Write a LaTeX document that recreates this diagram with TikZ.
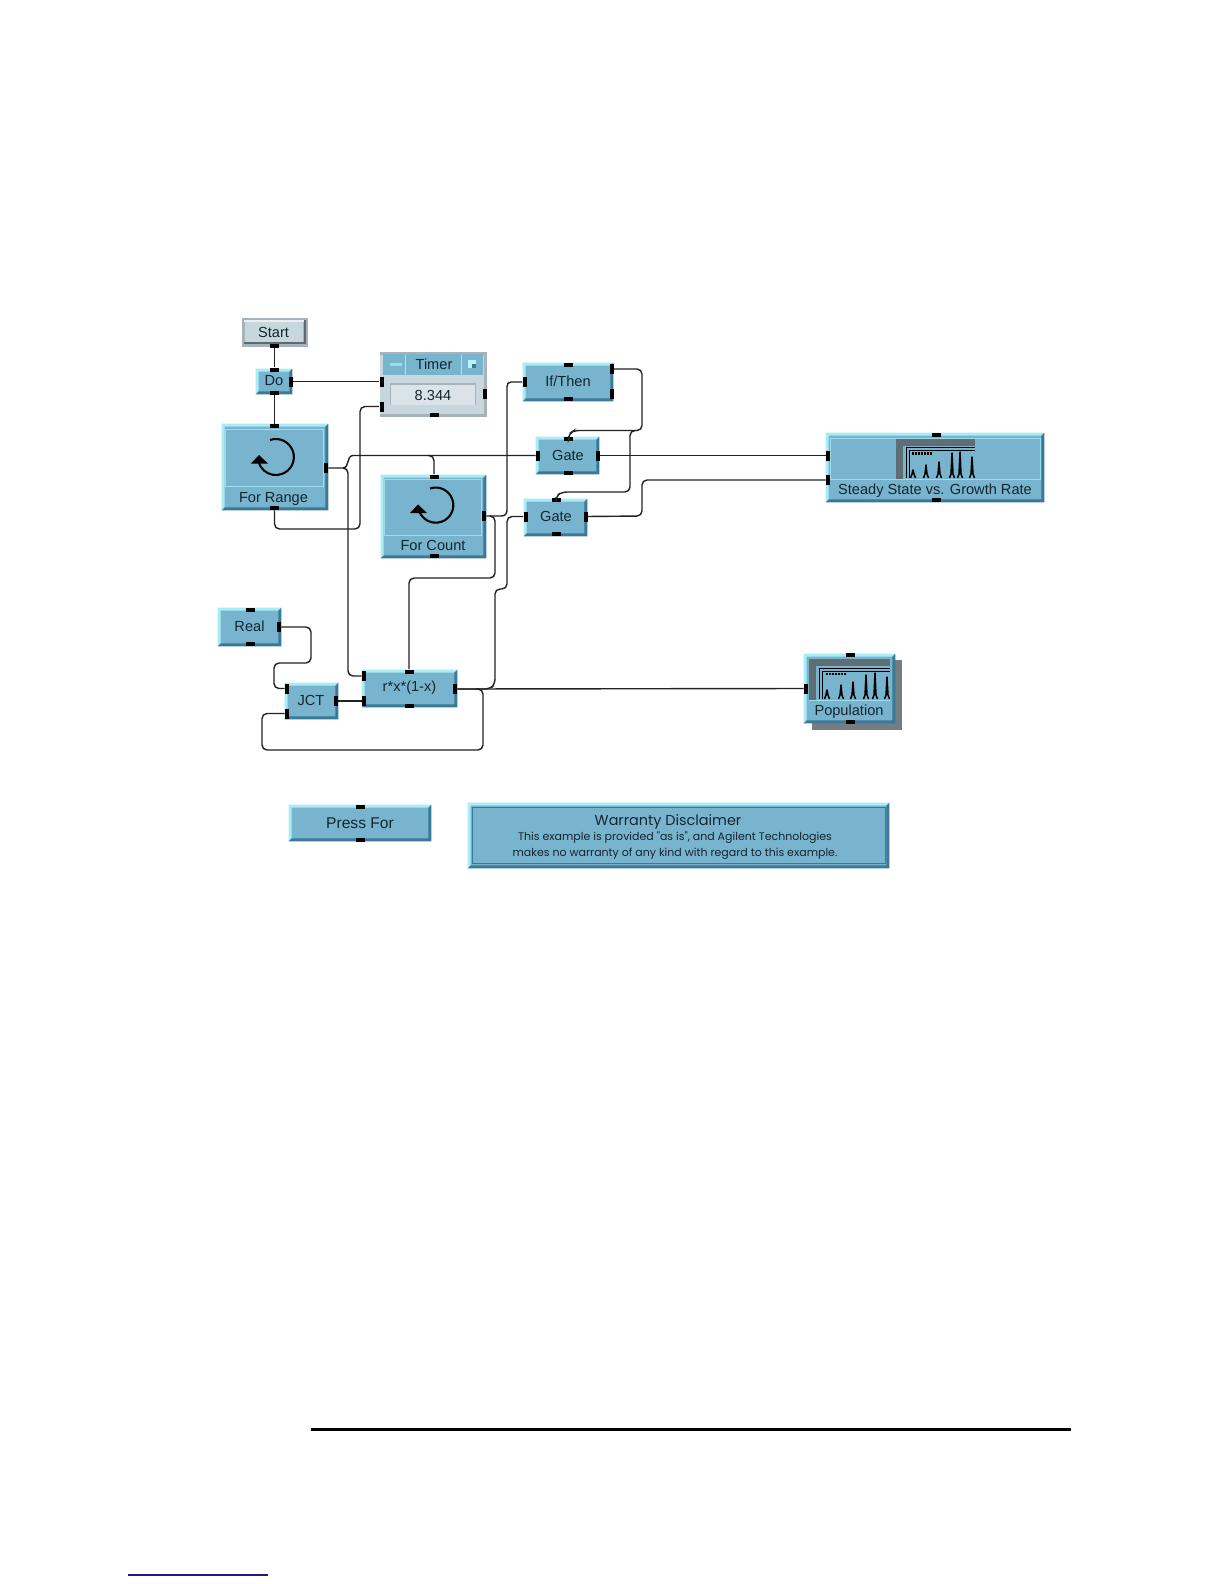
\documentclass[tikz,border=0pt]{standalone}
\usepackage{fontspec}
\setmainfont{Liberation Sans}
\newfontfamily\gothic{Poppins}
\definecolor{face}{HTML}{78B4CE}
\definecolor{lite}{HTML}{A8EDF6}
\definecolor{dark}{HTML}{3A7A98}
\definecolor{gface}{HTML}{C8D7DE}
\definecolor{gdark}{HTML}{A6B3B9}
\definecolor{gedge}{HTML}{5E6A70}
\definecolor{ink}{HTML}{14262F}
\definecolor{wirec}{HTML}{222222}
\definecolor{hatch}{HTML}{5F6E75}
\definecolor{linkc}{HTML}{1A1A90}
\tikzset{
 block/.style={fill=face,inner sep=0pt,text=ink,font=\fontsize{7.3}{9}\selectfont},
 gblock/.style={block,fill=gface},
 capt/.style={inner sep=0pt,text=ink,font=\fontsize{7.3}{9}\selectfont},
 wire/.style={draw=wirec,line width=0.7pt,rounded corners=2.5pt},
 portside/.style={fill=black,inner sep=0pt,minimum width=2pt,minimum height=5pt},
 porttop/.style={fill=black,inner sep=0pt,minimum width=4.5pt,minimum height=2pt},
 frameline/.style={draw=lite!70!face,line width=0.4pt},
 loopline/.style={draw=black,line width=1.05pt},
 spikeline/.style={draw=black,line width=0.75pt,line join=round},
}
\newcommand{\blocknode}[7][block]{%
 \pgfmathsetmacro{\bw}{(#5-#3)*0.5}\pgfmathsetmacro{\bh}{(#6-#4)*0.5}%
 \pgfmathsetmacro{\bx}{(#3+#5)/2}\pgfmathsetmacro{\by}{(#4+#6)/2}%
 \node[#1,minimum width=\bw pt,minimum height=\bh pt] (#2) at (\bx,\by) {};}
\newcommand{\bevel}[3]{% node, light, dark
 \fill[#2] (#1.south west) -- (#1.north west) -- (#1.north east) -- ([shift={(-3,3)}]#1.north east) -- ([shift={(3,3)}]#1.north west) -- ([shift={(3,-3)}]#1.south west) -- cycle;
 \fill[#3] (#1.south west) -- (#1.south east) -- (#1.north east) -- ([shift={(-3,3)}]#1.north east) -- ([shift={(-3,-3)}]#1.south east) -- ([shift={(3,-3)}]#1.south west) -- cycle;}
\newcommand{\sideport}[3]{\node[portside] (#1) at (#2,#3) {};}
\newcommand{\topport}[3]{\node[porttop] (#1) at (#2,#3) {};}
\newcommand{\spike}[3]{\draw[spikeline] (#1-2.5,#3) -- (#1-1,#3-4) -- (#1,#2) -- (#1+1,#3-4) -- (#1+2.5,#3);}
\begin{document}
\begin{tikzpicture}[x=0.5pt,y=-0.5pt]
\useasboundingbox[fill=white] (0,0) rectangle (1224,1584);

% ---------- blocks
\blocknode[gblock]{start}{242}{318}{308}{347}{}
\fill[gdark] (242,318) rectangle (308,347);
\fill[white!60!gface] (244,320) rectangle (304,322);
\fill[gedge] (244,342) rectangle (306,344);
\fill[gedge] (304,320) rectangle (306,344);
\fill[gface] (245,322) rectangle (303,342);
\node[capt] (startcap) at (273.5,332) {Start};

\blocknode{doo}{256}{369}{292}{394}{}
\bevel{doo}{lite}{dark}
\node[capt] (doocap) at (274,381) {Do};

\blocknode[gblock]{timer}{380}{352}{487}{417}{}
\fill[gdark] (380,352) rectangle (487,355);
\fill[gdark] (380,414) rectangle (487,417);
\fill[gdark] (484,352) rectangle (487,417);
\fill[face] (383,354) rectangle (405,375);
\fill[face] (406,354) rectangle (461,375);
\fill[face] (462,354) rectangle (483,375);
\fill[lite!70!face] (390,363) rectangle (402,366);
\fill[lite!80!white] (468,360) rectangle (476,368);
\fill[dark] (472,364) rectangle (476,368);
\node[capt] (timercap) at (434,364) {Timer};
\fill[gdark] (390,383) rectangle (476,405);
\node[fill=gface!70!white,inner sep=0pt,minimum width=42pt,minimum height=10pt] (timerfield) at (433,394.5) {};
\node[capt] (timerval) at (433,395) {8.344};

\blocknode{forrange}{222}{424}{328}{510}{}
\bevel{forrange}{lite}{dark}
\draw[frameline] (225.5,429) rectangle (323.5,486);
\node[capt] (forrangecap) at (273.5,499) {For Range};
\draw[loopline] (270,440) arc[start angle=109,end angle=-162,radius=9pt];
\fill[black] (259,455) -- (268,463.5) -- (251,463.5) -- cycle;

\blocknode{forcount}{381}{475}{486}{558}{}
\bevel{forcount}{lite}{dark}
\draw[frameline] (384.5,479) rectangle (481.5,535);
\node[capt] (forcountcap) at (433,545) {For Count};
\draw[loopline] (430,488.5) arc[start angle=109,end angle=-162,radius=8.8pt];
\fill[black] (418,504.5) -- (427,513) -- (410,513) -- cycle;

\blocknode{ifthen}{523}{363}{613}{401}{}
\bevel{ifthen}{lite}{dark}
\node[capt] (ifthencap) at (568,381) {If/Then};
\blocknode{gatea}{536}{437}{599}{474}{}
\bevel{gatea}{lite}{dark}
\node[capt] (gateacap) at (568,455) {Gate};
\blocknode{gateb}{524}{499}{587}{536}{}
\bevel{gateb}{lite}{dark}
\node[capt] (gatebcap) at (556,516) {Gate};

\blocknode{steady}{826}{433}{1044}{502}{}
\bevel{steady}{lite}{dark}
\draw[frameline] (830,438) rectangle (1040,479.5);
\node[capt] (steadycap) at (935,491) {Steady State vs. Growth Rate};
\fill[hatch] (896,439) rectangle (975,446);
\fill[hatch] (896,439) rectangle (903,478.5);
\draw[black,line width=0.5pt] (906,478) -- (906,447.5) -- (975,447.5);
\draw[black,line width=0.5pt] (909,478) -- (909,450.5) -- (975,450.5);
\draw[black,line width=1.3pt,dash pattern=on 1pt off 0.5pt] (912,453.5) -- (932,453.5);
\spike{913}{470}{478}\spike{926}{465}{478}\spike{939}{462}{478}
\spike{952}{453}{478}\spike{960}{452}{478}\spike{972}{457}{478}

\blocknode{real}{218}{608}{281}{646}{}
\bevel{real}{lite}{dark}
\node[capt] (realcap) at (249.5,626) {Real};
\blocknode{jct}{285}{683}{338}{719}{}
\bevel{jct}{lite}{dark}
\node[capt] (jctcap) at (311,700) {JCT};
\blocknode{formula}{362}{670}{457}{707}{}
\bevel{formula}{lite}{dark}
\node[capt] (formulacap) at (409.5,688) {r*x*(1-x)};

\fill[gdark!70!black] (812,660) rectangle (902,730);
\blocknode{population}{804}{654}{895}{723}{}
\bevel{population}{lite}{dark}
\fill[hatch] (809,659) rectangle (890,666);
\fill[hatch] (809,659) rectangle (816,700);
\draw[black,line width=0.5pt] (819,699) -- (819,668) -- (890,668);
\draw[black,line width=0.5pt] (822,699) -- (822,671) -- (890,671);
\draw[black,line width=1.3pt,dash pattern=on 1pt off 0.5pt] (826,674) -- (846,674);
\spike{827}{690}{699}\spike{841}{685}{699}\spike{853}{682}{699}
\spike{866}{675}{699}\spike{875}{673}{699}\spike{887}{677}{699}
\draw[frameline] (809,700.5) -- (890,700.5);
\node[capt] (populationcap) at (849,712) {Population};

\blocknode{pressfor}{289}{805}{431}{841}{}
\bevel{pressfor}{lite}{dark}
\node[capt,font=\fontsize{7.8}{9}\selectfont] (pressforcap) at (360,823) {Press For};

\blocknode{warranty}{468}{803}{889}{868}{}
\bevel{warranty}{lite}{dark}
\draw[draw=dark,line width=0.5pt] (472,807) rectangle (885,863.5);
\node[capt,font=\gothic\fontsize{7.2}{9}\selectfont] (warrantya) at (668,822) {Warranty Disclaimer};
\node[capt,font=\gothic\fontsize{5.5}{7}\selectfont] (warrantyb) at (675,837.5) {This example is provided "as is", and Agilent Technologies};
\node[capt,font=\gothic\fontsize{5.5}{7}\selectfont] (warrantyc) at (675,853.5) {makes no warranty of any kind with regard to this example.};

% ---------- connectors
\topport{startB}{274.5}{346}
\topport{doT}{274.5}{369.5}\topport{doB}{274.5}{393}\sideport{doR}{290.5}{381.5}
\sideport{timerA}{381.5}{381.5}\sideport{timerC}{381.5}{406.5}\sideport{timerR}{485}{394}\topport{timerB}{434}{415}
\topport{frT}{274.5}{426}\sideport{frR}{326}{468}\topport{frB}{274.5}{508}
\topport{fcT}{434}{476.5}\sideport{fcR}{484}{516}\topport{fcB}{434}{556}
\sideport{ifL}{524.5}{382}\topport{ifT}{568.5}{364.5}\topport{ifB}{568.5}{399}\sideport{ifA}{611.5}{369}\sideport{ifC}{611.5}{394}
\topport{gaT}{568.5}{438.5}\sideport{gaL}{538}{455.5}\sideport{gaR}{598}{455.5}\topport{gaB}{568.5}{472.5}
\topport{gbT}{556}{499.5}\sideport{gbL}{525.5}{516.5}\sideport{gbR}{585.5}{516.5}\topport{gbB}{556}{534}
\topport{stT}{936}{434.5}\sideport{stA}{828}{455.5}\sideport{stC}{828}{480}\topport{stB}{936}{500}
\topport{reT}{250}{610}\sideport{reR}{279}{627}\topport{reB}{250}{644}
\sideport{jcA}{287}{688.5}\sideport{jcC}{287}{713.5}\sideport{jcR}{335.5}{701}
\sideport{foA}{364}{676}\sideport{foC}{364}{701}\topport{foT}{409}{671.5}\sideport{foR}{455}{689}\topport{foB}{409}{705.5}
\topport{poT}{850}{655}\sideport{poL}{806}{688.5}\topport{poB}{850}{721.5}
\topport{pfT}{360}{806.5}\topport{pfB}{360}{840}

\draw[wire,line width=0.95pt] (startB) -- (doT);
\draw[wire,line width=0.95pt] (doB) -- (frT);
\draw[wire] (doR) -- (timerA);
\draw[wire] (frB) -- (274.5,529) -- (360,529) -- (360,406.5) -- (timerC);
\draw[draw=wirec,line width=0.7pt] (frR) -- (343,468) .. controls (350,467) and (346,456) .. (353,455.5) -- (gaL);
\draw[wire] (428,455.5) -- (434,455.5) -- (fcT);
\draw[wire] (343,468) -- (348,468) -- (348,676) -- (foA);
\draw[draw=wirec,line width=0.7pt] (fcR) -- (501,516) .. controls (505,516) and (507,514) .. (507,510) -- (507,387) .. controls (507,384) and (508,382) .. (511,382) -- (ifL);
\draw[wire] (490,516) -- (495,516) -- (495,578) -- (409,578) -- (foT);
\draw[wire] (foR) -- (490,689) -- (495,684) -- (495,589) -- (507,589) -- (507,516.5) -- (gbL);
\draw[wire] (foR) -- (poL);
\draw[wire] (476,689) -- (483,689) -- (483,750) -- (262,750) -- (262,713.5) -- (jcC);
\draw[wire] (jcR) -- (foC);
\draw[wire] (reR) -- (311,627) -- (311,663) -- (274,663) -- (274,688.5) -- (jcA);
\draw[wire] (ifA) -- (642,369) -- (642,430.5) -- (574,430.5) -- (568.5,434) -- (gaT);
\draw[wire] (636,430.5) -- (630,430.5) -- (630,492) -- (562,492) -- (556,496) -- (gbT);
\draw[wire] (gaR) -- (stA);
\draw[wire] (gbR) -- (642,516) -- (642,480) -- (stC);

% ---------- page furniture
\node[inner sep=0pt] (rulea) at (310,1429.5) {};
\node[inner sep=0pt] (ruleb) at (1072,1429.5) {};
\draw[black,line width=1.1pt] (rulea) -- (ruleb);
\node[inner sep=0pt] (linka) at (127,1575) {};
\node[inner sep=0pt] (linkb) at (269,1575) {};
\draw[linkc,line width=0.7pt] (linka) -- (linkb);
\end{tikzpicture}
\end{document}
